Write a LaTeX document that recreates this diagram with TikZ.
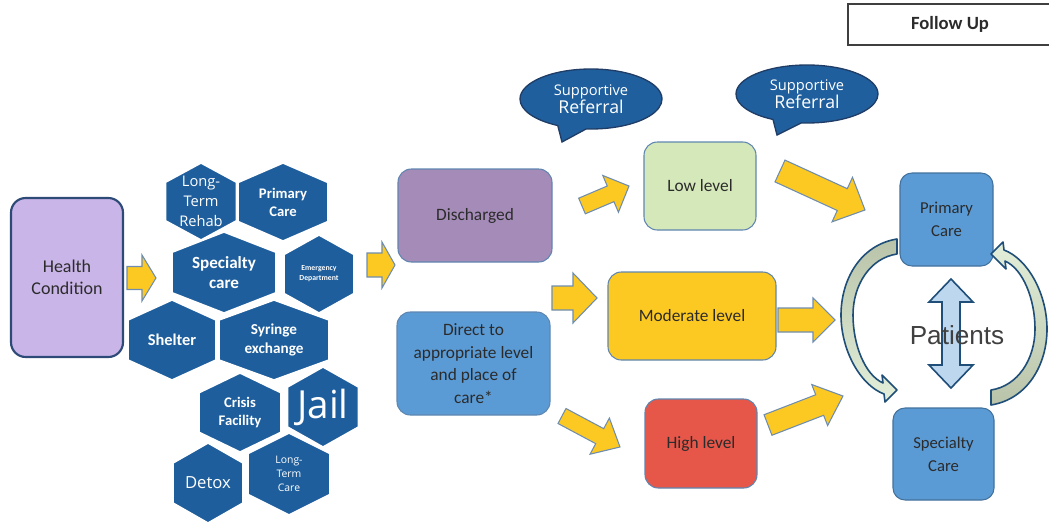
\documentclass[tikz,border=0pt]{standalone}
\usepackage{fontspec}
\setmainfont{Carlito}
\newfontfamily\osans{Open Sans}
\newfontfamily\lsans{Liberation Sans}
\usetikzlibrary{shapes.callouts,shapes.geometric}
\definecolor{hexblue}{HTML}{1E5E9C}
\definecolor{hcfill}{HTML}{C9B5E8}
\definecolor{hcborder}{HTML}{2E4B78}
\definecolor{dischfill}{HTML}{A48BB8}
\definecolor{directfill}{HTML}{5B9BD5}
\definecolor{lowfill}{HTML}{D5E8BA}
\definecolor{modfill}{HTML}{FCC923}
\definecolor{highfill}{HTML}{E6574A}
\definecolor{boxborder}{HTML}{5F86B0}
\definecolor{pcborder}{HTML}{41719C}
\definecolor{ayellow}{HTML}{FCC923}
\definecolor{ayborder}{HTML}{6F8DAE}
\definecolor{bubfill}{HTML}{1F5F9E}
\definecolor{bubborder}{HTML}{1F3D66}
\definecolor{arcdark}{HTML}{B8C3A9}
\definecolor{arclight}{HTML}{E3EFDA}
\definecolor{arcborder}{HTML}{1F4E79}
\definecolor{dblfill}{HTML}{BDD7EE}
\definecolor{txtdark}{HTML}{2B2B2B}
\definecolor{patcol}{HTML}{404040}
\definecolor{fuborder}{HTML}{3F3F3F}
\newcommand\fsz[2]{\fontsize{#1}{#2}\selectfont}
\newcommand\blockarrow[7]{%
  \pgfmathsetmacro\baang{atan2(#2-#4,#3-#1)}%
  \pgfmathsetmacro\balen{veclen(#3-#1,#4-#2)}%
  \pgfmathsetmacro\babase{\balen-#7}%
  \path[yarrow,shift={(#1,#2)},rotate=\baang] (0,-#5) -- (\babase,-#5) -- (\babase,-#6) -- (\balen,0) -- (\babase,#6) -- (\babase,#5) -- (0,#5) -- cycle;}
\newcommand\hexcell[7]{%
  \path[hexshape] (#2,#3-#5) -- (#2+#4,#3-0.5*#5) -- (#2+#4,#3+0.5*#5) -- (#2,#3+#5) -- (#2-#4,#3+0.5*#5) -- (#2-#4,#3-0.5*#5) -- cycle;
  \node[hextext,font={#6}] (#1) at (#2,#3) {#7};}
\begin{document}
\begin{tikzpicture}[x=0.75pt,y=-0.75pt,
  wh/.style 2 args={minimum width=#1*0.75pt, minimum height=#2*0.75pt},
  box/.style={draw=boxborder, line width=0.8pt, rounded corners=10pt, inner sep=0pt, align=center, text=txtdark, font=\fsz{13}{17}},
  hcbox/.style={draw=hcborder, line width=1.6pt, fill=hcfill, rounded corners=11pt, inner sep=0pt, align=center, text=txtdark, font=\fsz{13.5}{16.5}},
  carebox/.style={draw=pcborder, line width=0.8pt, fill=directfill, rounded corners=9pt, inner sep=0pt, align=center, text=txtdark, font=\fsz{12.5}{17}},
  fubox/.style={draw=fuborder, line width=0.8pt, inner sep=0pt, text=txtdark, font=\bfseries\fsz{14}{16}},
  yarrow/.style={fill=ayellow, draw=ayborder, line width=0.8pt, line join=miter},
  hexshape/.style={fill=hexblue, draw=white, line width=1.2pt},
  hextext/.style={text=white, align=center, inner sep=0pt},
  bubble/.style={ellipse callout, fill=bubfill, draw=bubborder, line width=1pt, inner sep=0pt, text=white, align=center, callout pointer arc=24, font=\osans\fsz{11}{13.5}},
  cyclearc/.style={draw=arcborder, line width=1.2pt, line join=round},
  dblarrow/.style={fill=dblfill, draw=arcborder, line width=1.2pt, line join=miter}
  ]
\path[use as bounding box, clip] (0,0) rectangle (1049,525);

% Follow up
\node[fubox, wh={204}{41}] (fu) at (950,24.5) {Follow Up};

% Health condition
\node[hcbox, wh={112}{159}] (hc) at (67,277.5) {Health\\Condition};

% hexagons
\hexcell{ltr}{201}{201.5}{35.5}{38.5}{\osans\fsz{11}{15}}{Long-\\Term\\Rehab}
\hexcell{pch}{283}{202}{45}{39}{\bfseries\fsz{11}{13.5}}{Primary\\Care}
\hexcell{sph}{224}{272.5}{52}{40.5}{\bfseries\fsz{12.8}{15}}{Specialty\\care}
\hexcell{edh}{319}{274}{35}{39}{\bfseries\fsz{5.8}{7.5}}{Emergency\\Department}
\hexcell{shh}{172}{340}{44}{40}{\bfseries\fsz{12.3}{14}}{Shelter}
\hexcell{syh}{274}{340}{55}{40}{\bfseries\fsz{11.4}{14.3}}{Syringe\\exchange}
\hexcell{crh}{240}{412.5}{41}{39.5}{\bfseries\fsz{11}{13.5}}{Crisis\\Facility}
\hexcell{jah}{323}{407}{35.5}{40}{\osans\fsz{29}{30}}{Jail}
\hexcell{deh}{208}{483}{35}{40}{\osans\fsz{12.5}{14}}{Detox}
\hexcell{lth}{289}{474}{41}{41}{\osans\fsz{7.8}{10.3}}{Long-\\Term\\Care}

% middle boxes
\node[box, fill=dischfill, wh={154}{93}] (dis) at (475,215.5) {Discharged};
\node[box, fill=directfill, wh={153}{103}] (dir) at (473.5,363.5) {Direct to\\appropriate level\\and place of\\care*};
\node[box, fill=lowfill, wh={112}{88}] (low) at (700,186) {Low level};
\node[box, fill=modfill, wh={168}{88}] (mod) at (692,316) {Moderate level};
\node[box, fill=highfill, wh={112}{89}] (high) at (701,443.5) {High level};

% speech bubbles
\node[bubble, wh={142}{60}, callout absolute pointer={(562,142)}] (sr1) at (591,99) {Supportive\\{\fsz{13.3}{13.5}Referral}};
\node[bubble, wh={142}{58}, callout absolute pointer={(777,135)}] (sr2) at (807,94) {Supportive\\{\fsz{13.3}{13.5}Referral}};

% care boxes
\node[carebox, wh={93}{93}] (pc) at (946.5,219.5) {Primary\\Care};
\node[carebox, wh={101}{92}] (sc) at (943.5,454) {Specialty\\Care};

% yellow block arrows
\blockarrow{127}{278}{156}{278}{11.5}{23}{14}
\blockarrow{367}{265}{395}{265}{12}{23}{13}
\blockarrow{582}{206}{629}{186}{8.5}{20}{20}
\blockarrow{552}{298}{597}{298}{12}{25}{24}
\blockarrow{562}{416}{620}{447}{8.5}{20.5}{23}
\blockarrow{780}{171}{865}{210}{12}{24.5}{25}
\blockarrow{778}{320}{835}{320}{12}{22}{22}
\blockarrow{768}{425}{843}{396}{11}{22}{25}

% cycle arcs
\path[cyclearc, top color=arcdark, bottom color=arclight]
  (897,239) .. controls (860,245) and (841,280) .. (841,315)
  .. controls (841,350) and (860,385) .. (884,394)
  -- (885,402) -- (897,390) -- (882,375) -- (883,383)
  .. controls (865,375) and (853,345) .. (853,315)
  .. controls (853,285) and (870,258) .. (897,254) -- cycle;
\path[cyclearc, top color=arclight, bottom color=arcdark]
  (991,405) .. controls (1028,399) and (1047,364) .. (1047,329)
  .. controls (1047,294) and (1028,259) .. (1004,250)
  -- (1003,242) -- (991,254) -- (1006,269) -- (1005,261)
  .. controls (1023,269) and (1035,299) .. (1035,329)
  .. controls (1035,359) and (1018,386) .. (991,390) -- cycle;

% double arrow
\path[dblarrow] (951,279) -- (973,302) -- (960,302) -- (960,365) -- (973,365) -- (951,388) -- (929,365) -- (942,365) -- (942,302) -- (929,302) -- cycle;
\node[text=patcol, font=\lsans\fsz{19.6}{22}, inner sep=0pt] (pat) at (957,335) {Patients};
\end{tikzpicture}
\end{document}
